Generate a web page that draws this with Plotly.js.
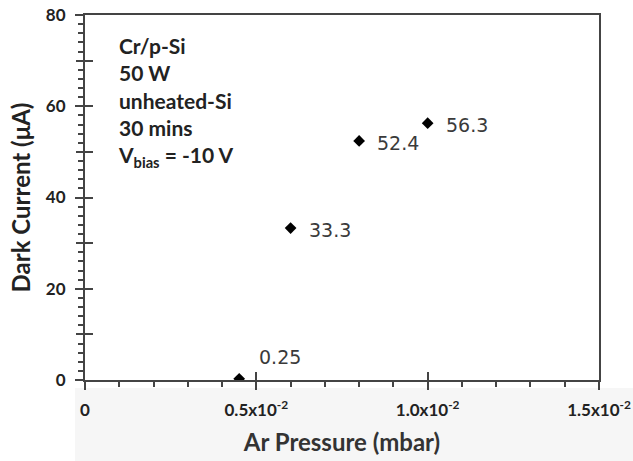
<!DOCTYPE html>
<html><head><meta charset="utf-8">
<script src="https://cdn.plot.ly/plotly-3.0.1.min.js"></script>
<style>body{margin:0;padding:0;background:#fff}#chart{width:633px;height:461px}</style>
</head><body><div id="chart"></div>
<script>
const pressure = [0.0045, 0.006, 0.008, 0.010];
const darkCurrent = [0.25, 33.3, 52.4, 56.3];
const pointLabels = ['0.25', '33.3', '52.4', '56.3'];
const xTickVals = [0, 0.005, 0.010, 0.015];
const xTickText = ['0', '0.5x10<sup>-2</sup>', '1.0x10<sup>-2</sup>', '1.5x10<sup>-2</sup>'];
const yTickVals = [0, 20, 40, 60, 80];
const yTickText = ['0', '20', '40', '60', '80'];
const yMidTicks = [10, 30, 50, 70];
const infoLines = ['Cr/p-Si', '50 W', 'unheated-Si', '30 mins', 'V<sub>bias</sub> = -10 V'];

const axisCol = '#444';
const fam = 'Lato, "Open Sans", sans-serif';
const tickFont = {family: fam, size: 17, color: '#222', weight: 'bold'};

const trace = {
  x: pressure, y: darkCurrent, type: 'scatter', mode: 'markers',
  marker: {symbol: 'diamond', size: 9, color: '#000'},
  hoverinfo: 'skip', showlegend: false
};

const annotations = pressure.map((p, i) => ({
  x: p, y: darkCurrent[i], text: pointLabels[i], showarrow: false,
  xanchor: 'left', yanchor: 'middle', xshift: i === 0 ? 18 : 16, yshift: i === 0 ? 22 : -2,
  font: {family: '"DejaVu Sans", Verdana, sans-serif', size: 19, color: '#3a3a3a'}
}));
annotations.push({
  xref: 'paper', yref: 'paper', x: 0.061, y: 0.955, xanchor: 'left', yanchor: 'top',
  align: 'left', showarrow: false, text: infoLines.map(s => '<b>' + s + '</b>').join('<br>'),
  font: {family: fam, size: 21, color: '#222'}
});

const hiddenAxis = (extra) => Object.assign({
  range: [0, 80], tickwidth: 2, tickcolor: axisCol, ticklen: 8,
  showticklabels: false, showline: false, showgrid: false, zeroline: false
}, extra);

const layout = {
  width: 633, height: 461,
  margin: {l: 85, r: 34, t: 15, b: 81},
  paper_bgcolor: '#fff', plot_bgcolor: '#fff',
  showlegend: false,
  shapes: [{type: 'rect', xref: 'paper', yref: 'paper', x0: -0.0195, x1: 1.07, y0: -0.022, y1: -0.23,
    fillcolor: '#f6f6f6', line: {width: 0}, layer: 'below'}],
  xaxis: {
    range: [0, 0.015], tickvals: xTickVals, ticktext: xTickText,
    ticks: 'outside', ticklen: 8, tickwidth: 2, tickcolor: axisCol,
    minor: {dtick: 0.001, ticks: 'outside', ticklen: 5, tickwidth: 2, tickcolor: axisCol},
    showline: true, linecolor: axisCol, linewidth: 2, mirror: true,
    showgrid: false, zeroline: false, tickfont: tickFont, ticklabelstandoff: 6,
    title: {text: '<b>Ar Pressure (mbar)</b>', font: {family: fam, size: 24, color: '#333'}, standoff: 15}
  },
  xaxis2: {
    overlaying: 'x', range: [0, 0.015], tickvals: [0, 0.005, 0.010],
    ticks: 'inside', ticklen: 8, tickwidth: 2, tickcolor: axisCol,
    showticklabels: false, showline: false, showgrid: false, zeroline: false
  },
  yaxis: {
    range: [0, 80], tickvals: yTickVals, ticktext: yTickText,
    ticks: 'outside', ticklen: 8, tickwidth: 2, tickcolor: axisCol,
    minor: {dtick: 2, ticks: 'outside', ticklen: 5, tickwidth: 2, tickcolor: axisCol},
    showline: true, linecolor: axisCol, linewidth: 2, mirror: true,
    showgrid: false, zeroline: false, tickfont: tickFont, ticklabelstandoff: 6,
    title: {text: '<b>Dark Current (μA)</b>', font: {family: fam, size: 24, color: '#222'}, standoff: 8}
  },
  yaxis2: hiddenAxis({overlaying: 'y', tickvals: [10, 20, 30, 40, 50, 60, 70], ticks: 'inside'}),
  yaxis3: hiddenAxis({overlaying: 'y', tickvals: yMidTicks, ticks: 'outside'}),
  annotations: annotations
};

const dummy2 = {x: [0], y: [0], xaxis: 'x2', yaxis: 'y2', mode: 'markers', marker: {opacity: 0}, hoverinfo: 'skip', showlegend: false};
const dummy3 = {x: [0], y: [0], xaxis: 'x', yaxis: 'y3', mode: 'markers', marker: {opacity: 0}, hoverinfo: 'skip', showlegend: false};

Plotly.newPlot('chart', [trace, dummy2, dummy3], layout, {displayModeBar: false, staticPlot: true});
</script></body></html>
